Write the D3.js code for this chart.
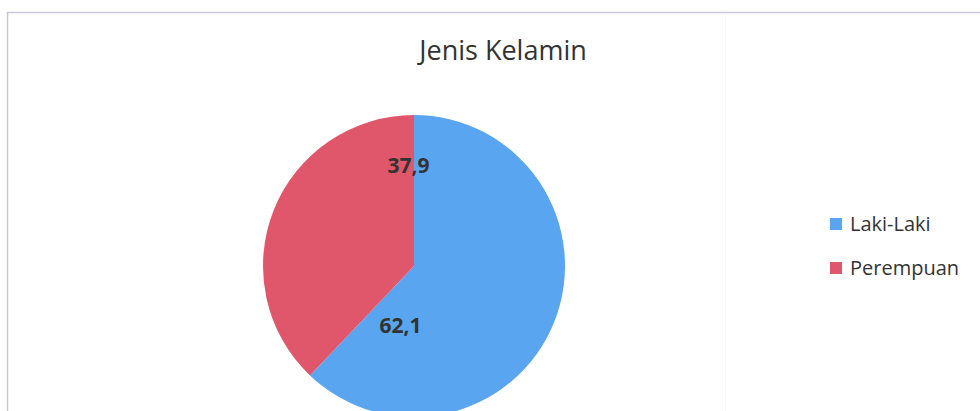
<!DOCTYPE html>
<html>
<head>
<meta charset="utf-8">
<script src="https://cdn.jsdelivr.net/npm/d3@7"></script>
<style>
  html, body { margin: 0; padding: 0; background: #fff; overflow: hidden; }
  svg { display: block; }
</style>
</head>
<body>
<svg></svg>
<script>
const categories = ['Laki-Laki', 'Perempuan'];
const values = [62.1, 37.9];
const labels = ['62,1', '37,9'];
const colors = ['#5aa5ef', '#e0566b'];

const svg = d3.select('svg')
	.attr('width', 980)
	.attr('height', 411);

let   cx = 414,
	  cy = 266,
	  radius = 151;

// chart frame
svg.append('path')
	.attr('d', 'M7.5,411 V12.5 H980')
	.attr('fill', 'none')
	.attr('stroke', '#c9c9dc')
	.attr('stroke-width', 1.5);

svg.append('line')
	.attr('x1', 725.5).attr('x2', 725.5)
	.attr('y1', 13).attr('y2', 411)
	.attr('stroke', '#f8f8f8');

svg.append('text')
	.attr('x', 503)
	.attr('y', 60)
	.attr('text-anchor', 'middle')
	.attr('font-family', 'Open Sans')
	.attr('font-size', 27)
	.attr('fill', '#333')
	.text('Jenis Kelamin');

const pie = d3.pie().sort(null)(values);
const arc = d3.arc().innerRadius(0).outerRadius(radius);

const g = svg.append('g')
	.attr('transform', `translate(${cx}, ${cy})`);

g.selectAll('path')
	.data(pie)
	.join('path')
		.attr('d', arc)
		.attr('fill', (d, i) => colors[i]);

// label anchors as in the original (best fit), polar offset from centre
const labelAngle = [Math.PI + 0.2, -0.06];
const labelRadius = [68, 93];
g.selectAll('text.lbl')
	.data(pie)
	.join('text')
		.attr('class', 'lbl')
		.attr('x', (d, i) => labelRadius[i] * Math.sin(labelAngle[i]))
		.attr('y', (d, i) => -labelRadius[i] * Math.cos(labelAngle[i]))
		.attr('text-anchor', 'middle')
		.attr('font-family', 'Open Sans')
		.attr('font-weight', 'bold')
		.attr('font-size', 21)
		.attr('fill', '#333')
		.text((d, i) => labels[i]);

const legend = svg.append('g')
	.attr('transform', 'translate(830, 231)');

const item = legend.selectAll('g')
	.data(categories)
	.join('g')
		.attr('transform', (d, i) => `translate(0, ${i * 44})`);

item.append('rect')
	.attr('x', 0)
	.attr('y', -13)
	.attr('width', 12)
	.attr('height', 12)
	.attr('fill', (d, i) => colors[i]);

item.append('text')
	.attr('x', 20)
	.attr('y', 0)
	.attr('font-family', 'Open Sans')
	.attr('font-size', 20)
	.attr('fill', '#333')
	.text(d => d);
</script>
</body>
</html>
